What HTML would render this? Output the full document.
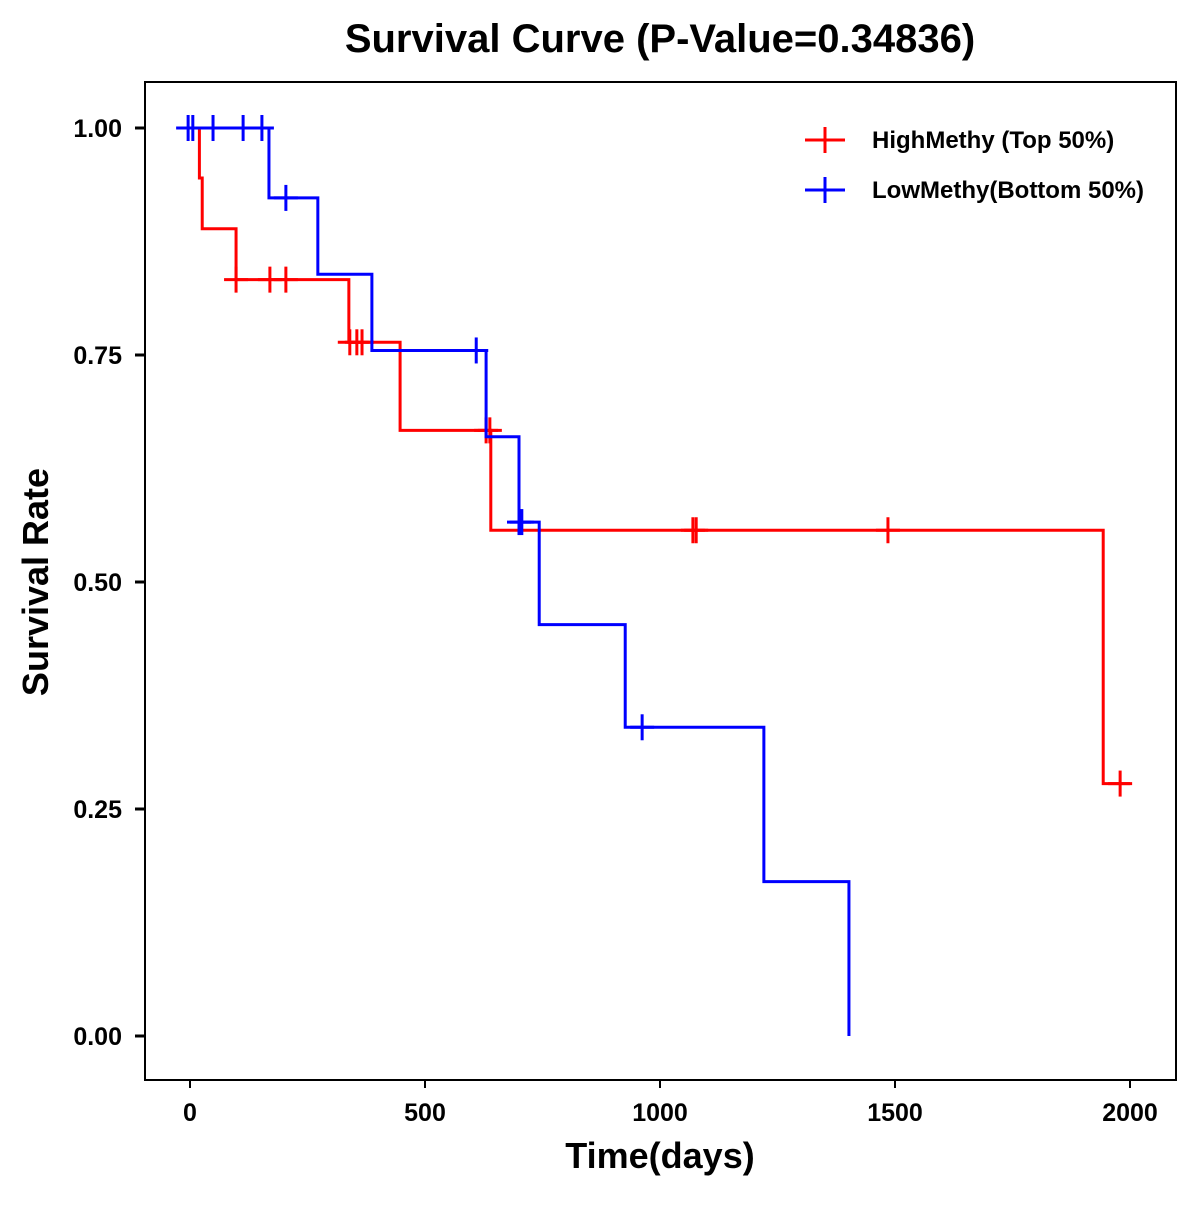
<!DOCTYPE html>
<html><head><meta charset="utf-8"><style>
body{margin:0;background:#fff}
svg text{font-family:"Liberation Sans",Arial,sans-serif;font-weight:bold}
</style></head><body>
<svg id="chart" width="1200" height="1200" xmlns="http://www.w3.org/2000/svg">
<rect width="1200" height="1200" fill="#fff"/>
<text x="660" y="52" font-size="40" text-anchor="middle">Survival Curve (P-Value=0.34836)</text>
<rect x="145" y="82" width="1031" height="998" fill="none" stroke="#000" stroke-width="2"/>
<g id="axes"></g>
<g id="series"></g>
<text x="660" y="1168" font-size="36" text-anchor="middle">Time(days)</text>
<text transform="translate(48,582) rotate(-90)" font-size="36" text-anchor="middle">Survival Rate</text>
<g>
<g>
<line x1="805" y1="140" x2="845" y2="140" stroke="#f00" stroke-width="3"/><line x1="825" y1="127" x2="825" y2="153" stroke="#f00" stroke-width="3"/>
<text x="872" y="148" font-size="24">HighMethy (Top 50%)</text></g>
<g>
<line x1="805" y1="190" x2="845" y2="190" stroke="#00f" stroke-width="3"/><line x1="825" y1="177" x2="825" y2="203" stroke="#00f" stroke-width="3"/>
<text x="872" y="198" font-size="24">LowMethy(Bottom 50%)</text></g>
</g>
</svg>
<script>
const xTicks=[0,500,1000,1500,2000];
const yTicks=[0,0.25,0.5,0.75,1.0];
const yTickLabels=["0.00","0.25","0.50","0.75","1.00"];
const highTimes=[0,20,26,98,338,447,640,1943,2000];
const highSurv=[1.0,0.945,0.889,0.833,0.764,0.667,0.557,0.278,0.278];
const highCensorT=[98,170,204,340,355,366,630,638,1070,1077,1485,1979];
const highCensorS=[0.833,0.833,0.833,0.764,0.764,0.764,0.667,0.667,0.557,0.557,0.557,0.278];
const lowTimes=[-28,168,272,387,630,700,743,926,1221,1402];
const lowSurv=[1.0,0.923,0.839,0.755,0.660,0.566,0.453,0.340,0.170,0.0];
const lowCensorT=[-4,6,49,113,153,204,609,700,706,962];
const lowCensorS=[1,1,1,1,1,0.923,0.755,0.566,0.566,0.340];
const X=t=>190+t*0.47, Y=s=>1036-s*908;
const NS="http://www.w3.org/2000/svg";
const axes=document.getElementById('axes'), ser=document.getElementById('series');
function mk(tag,attrs,parent){const e=document.createElementNS(NS,tag);for(const k in attrs)e.setAttribute(k,attrs[k]);parent.appendChild(e);return e;}
xTicks.forEach(v=>{
 const l=mk('line',{x1:X(v),x2:X(v),y1:1080,y2:1088,stroke:'#000','stroke-width':2},axes);
 
 
 const t=mk('text',{x:X(v),y:1121,'font-size':25,'text-anchor':'middle'},axes);t.textContent=v;
 
 
});
yTicks.forEach((v,i)=>{
 const l=mk('line',{x1:135,x2:145,y1:Y(v),y2:Y(v),stroke:'#000','stroke-width':3},axes);
 
 
 const t=mk('text',{x:122,y:Y(v)+9,'font-size':25,'text-anchor':'end'},axes);t.textContent=yTickLabels[i];
 
 
});
function draw(times,surv,ct,cs,color,name){
 let d='M'+X(times[0])+','+Y(surv[0]);
 for(let i=1;i<times.length;i++){d+='H'+X(times[i])+'V'+Y(surv[i]);}
 const p=mk('path',{d:d,fill:'none',stroke:color,'stroke-width':3},ser);
 
 
 ct.forEach((t,i)=>{
  const g=mk('g',{},ser);
  
  
  mk('line',{x1:X(t)-12,x2:X(t)+12,y1:Y(cs[i]),y2:Y(cs[i]),stroke:color,'stroke-width':3},g);
  mk('line',{x1:X(t),x2:X(t),y1:Y(cs[i])-13,y2:Y(cs[i])+13,stroke:color,'stroke-width':3},g);
 });
}
draw(highTimes,highSurv,highCensorT,highCensorS,'#f00','high-methy');
draw(lowTimes,lowSurv,lowCensorT,lowCensorS,'#00f','low-methy');
</script>
</body></html>
